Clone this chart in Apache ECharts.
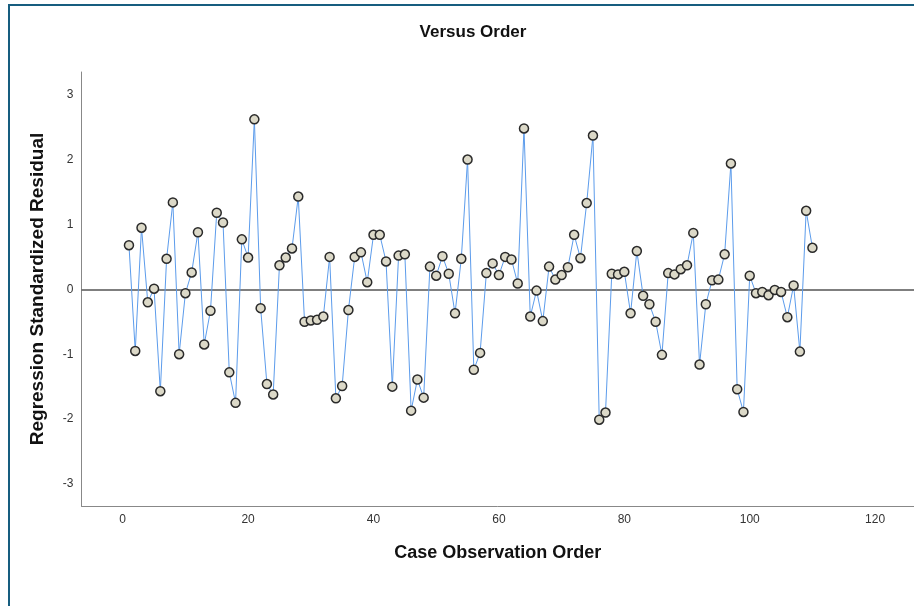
<!DOCTYPE html>
<html>
<head>
<meta charset="utf-8">
<script src="https://cdn.jsdelivr.net/npm/echarts@6/dist/echarts.min.js"></script>
<style>
  html, body { margin: 0; padding: 0; background: #fff; }
  #chart { width: 914px; height: 606px; }
</style>
</head>
<body>
<div id="chart"></div>
<script>
// Case order (1..110) and the standardized residual of each case
const caseOrder = [
  1, 2, 3, 4, 5, 6, 7, 8, 9, 10,
  11, 12, 13, 14, 15, 16, 17, 18, 19, 20,
  21, 22, 23, 24, 25, 26, 27, 28, 29, 30,
  31, 32, 33, 34, 35, 36, 37, 38, 39, 40,
  41, 42, 43, 44, 45, 46, 47, 48, 49, 50,
  51, 52, 53, 54, 55, 56, 57, 58, 59, 60,
  61, 62, 63, 64, 65, 66, 67, 68, 69, 70,
  71, 72, 73, 74, 75, 76, 77, 78, 79, 80,
  81, 82, 83, 84, 85, 86, 87, 88, 89, 90,
  91, 92, 93, 94, 95, 96, 97, 98, 99, 100,
  101, 102, 103, 104, 105, 106, 107, 108, 109, 110
];
const residuals = [
  0.68, -0.95, 0.95, -0.20, 0.01, -1.57, 0.47, 1.34, -1.00, -0.06,
  0.26, 0.88, -0.85, -0.33, 1.18, 1.03, -1.28, -1.75, 0.77, 0.49,
  2.62, -0.29, -1.46, -1.62, 0.37, 0.49, 0.63, 1.43, -0.50, -0.48,
  -0.47, -0.42, 0.50, -1.68, -1.49, -0.32, 0.50, 0.57, 0.11, 0.84,
  0.84, 0.43, -1.50, 0.52, 0.54, -1.87, -1.39, -1.67, 0.35, 0.21,
  0.51, 0.24, -0.37, 0.47, 2.00, -1.24, -0.98, 0.25, 0.40, 0.22,
  0.50, 0.46, 0.09, 2.48, -0.42, -0.02, -0.49, 0.35, 0.15, 0.22,
  0.34, 0.84, 0.48, 1.33, 2.37, -2.01, -1.90, 0.24, 0.23, 0.27,
  -0.37, 0.59, -0.10, -0.23, -0.50, -1.01, 0.25, 0.23, 0.31, 0.37,
  0.87, -1.16, -0.23, 0.14, 0.15, 0.54, 1.94, -1.54, -1.89, 0.21,
  -0.06, -0.04, -0.09, -0.01, -0.04, -0.43, 0.06, -0.96, 1.21, 0.64
];
const xTicks = [0, 20, 40, 60, 80, 100, 120];
const yTicks = [-3, -2, -1, 0, 1, 2, 3];

const chart = echarts.init(document.getElementById('chart'), null, { renderer: 'canvas' });

const font = '"Liberation Sans", Arial, sans-serif';

chart.setOption({
  animation: false,
  backgroundColor: '#ffffff',
  title: {
    text: 'Versus Order',
    left: 468,
    top: 19,
    textAlign: 'center',
    textStyle: { fontFamily: font, fontSize: 17, fontWeight: 'bold', color: '#111' }
  },
  graphic: [{
    type: 'polyline',
    shape: { points: [[9, 606], [9, 5], [914, 5]] },
    style: { stroke: '#175d7f', lineWidth: 2, fill: null },
    silent: true
  }],
  grid: { left: 81.5, right: 0, top: 72, bottom: 100, containLabel: false },
  xAxis: {
    type: 'value',
    min: -6.57,
    max: 126.2,
    name: 'Case Observation Order',
    nameLocation: 'middle',
    nameGap: 38,
    nameTextStyle: { fontFamily: font, fontSize: 18, fontWeight: 'bold', color: '#111' },
    axisLine: { show: true, onZero: false, lineStyle: { color: '#888', width: 1 } },
    axisTick: { show: false },
    splitLine: { show: false },
    axisLabel: {
      customValues: xTicks,
      fontFamily: font, fontSize: 12, color: '#333', margin: 8
    }
  },
  yAxis: {
    type: 'value',
    min: -3.34,
    max: 3.35,
    name: 'Regression Standardized Residual',
    nameLocation: 'middle',
    nameGap: 34,
    nameRotate: 90,
    nameTextStyle: { fontFamily: font, fontSize: 19, fontWeight: 'bold', color: '#111' },
    axisLine: { show: true, onZero: false, lineStyle: { color: '#888', width: 1 } },
    axisTick: { show: false },
    splitLine: { show: false },
    axisLabel: {
      customValues: yTicks,
      fontFamily: font, fontSize: 12, color: '#333', margin: 8
    }
  },
  series: [{
    type: 'line',
    data: caseOrder.map((c, i) => [c, residuals[i]]),
    symbol: 'circle',
    symbolSize: 9,
    lineStyle: { color: '#5c9cec', width: 1 },
    itemStyle: { color: '#dcd9c8', borderColor: '#2a2a2a', borderWidth: 1.5 },
    z: 3,
    markLine: {
      silent: true,
      symbol: 'none',
      label: { show: false },
      lineStyle: { color: '#555', width: 1.5, type: 'solid' },
      data: [{ yAxis: 0 }],
      z: 2
    }
  }]
});
</script>
</body>
</html>
